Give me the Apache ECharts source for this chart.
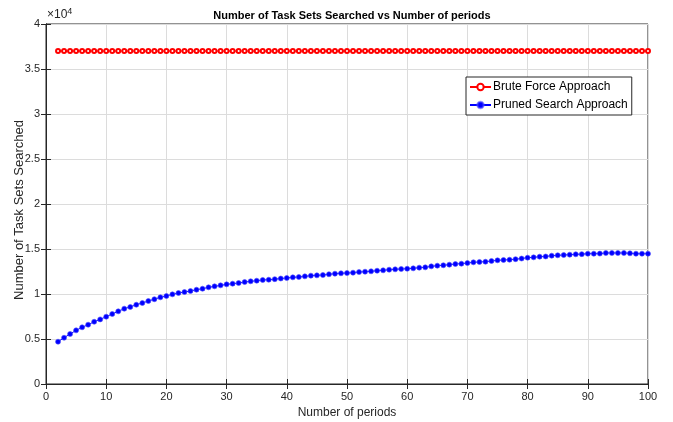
<!DOCTYPE html>
<html><head><meta charset="utf-8">
<script src="https://cdn.jsdelivr.net/npm/echarts@6/dist/echarts.min.js"></script>
<style>html,body{margin:0;padding:0;background:#fff}#c{width:673px;height:422px}</style>
</head><body><div id="c"></div>
<script>
const periods = [];
for (let p = 2; p <= 100; p++) periods.push(p);
const bruteForce = Array(99).fill(37000);
const pruned = [4700,5140,5560,5960,6300,6590,6920,7180,7480,7780,8070,8370,8560,8810,9000,9220,9420,9630,9780,9960,
10110,10220,10330,10480,10590,10740,10850,10960,11070,11150,11220,11330,11410,11480,11560,11590,11650,11720,11780,11850,
11890,11960,12040,12070,12110,12190,12260,12300,12330,12370,12440,12480,12520,12590,12630,12700,12740,12780,12810,12850,
12930,12960,13070,13150,13190,13260,13330,13370,13440,13520,13560,13590,13670,13740,13780,13810,13870,13940,14040,14070,
14150,14170,14260,14300,14330,14370,14410,14430,14480,14480,14490,14560,14560,14560,14560,14520,14480,14480,14480];
const xTicks = [0,10,20,30,40,50,60,70,80,90,100];
const yTickLabels = ['0','0.5','1','1.5','2','2.5','3','3.5','4'];

const FONT = 'Liberation Sans Narrow, Arial Narrow, Liberation Sans, Arial, sans-serif';
const chart = echarts.init(document.getElementById('c'));
const mk = (arr) => periods.map((p, i) => [p, arr[i]]);
chart.setOption({
  animation: false,
  textStyle: { fontFamily: FONT },
  title: {
    text: 'Number of Task Sets Searched vs Number of periods',
    left: 347, top: 5, textAlign: 'center',
    textStyle: { fontFamily: FONT, fontSize: 11, fontWeight: 'bold', color: '#000' }
  },
  grid: { left: 46, right: 25, top: 24, bottom: 38, show: true, borderColor: '#262626', borderWidth: 1,
    containLabel: false, outerBoundsMode: 'none' },
  legend: {
    orient: 'vertical', left: 466, top: 77,
    backgroundColor: '#fff', borderColor: '#262626', borderWidth: 1,
    padding: [4, 4, 4, 3], itemGap: 6, itemWidth: 21, itemHeight: 8,
    textStyle: { fontFamily: 'Liberation Sans, Arial, sans-serif', fontSize: 12, color: '#000', padding: [0,0,0,-3] },
    data: ['Brute Force Approach', 'Pruned Search Approach']
  },
  graphic: [{
    type: 'text', left: 47, top: 7,
    style: { text: '×10{s|4}', font: '12px Liberation Sans Narrow, Liberation Sans, Arial', fill: '#262626',
      rich: { s: { fontSize: 9, verticalAlign: 'top', padding: [0,0,7,0] } } }
  }],
  xAxis: [{
    type: 'value', min: 0, max: 100, interval: 10,
    name: 'Number of periods', nameLocation: 'middle', nameGap: 23,
    nameTextStyle: { fontFamily: FONT, fontSize: 12, color: '#262626' },
    axisLine: { lineStyle: { color: '#262626' } },
    axisTick: { inside: true, length: 5, lineStyle: { color: '#262626' } },
    axisLabel: { fontFamily: FONT, fontSize: 11, color: '#262626', margin: 7 },
    splitLine: { show: true, lineStyle: { color: '#dcdcdc' } }
  }, {
    type: 'value', position: 'top', min: 0, max: 100, interval: 10,
    axisLine: { show: true, lineStyle: { color: '#262626' } },
    axisTick: { inside: true, length: 5, lineStyle: { color: '#262626' } },
    axisLabel: { show: false }, splitLine: { show: false }
  }],
  yAxis: [{
    type: 'value', min: 0, max: 40000, interval: 5000,
    name: 'Number of Task Sets Searched', nameLocation: 'middle', nameGap: 20, nameMoveOverlap: false,
    nameTextStyle: { fontFamily: 'Liberation Sans, Arial, sans-serif', fontSize: 13, color: '#262626', padding: [0, 12, 0, 0] },
    axisLine: { show: true, lineStyle: { color: '#262626' } },
    axisTick: { show: true, inside: true, length: 5, lineStyle: { color: '#262626' } },
    axisLabel: { fontFamily: FONT, fontSize: 11, color: '#262626', margin: 6,
      formatter: (v) => yTickLabels[Math.round(v / 5000)] },
    splitLine: { show: true, lineStyle: { color: '#dcdcdc' } }
  }, {
    type: 'value', position: 'right', min: 0, max: 40000, interval: 5000,
    axisLine: { show: true, lineStyle: { color: '#262626' } },
    axisTick: { show: true, inside: true, length: 5, lineStyle: { color: '#262626' } },
    axisLabel: { show: false }, splitLine: { show: false }
  }],
  series: [{
    name: 'Brute Force Approach', type: 'line', data: mk(bruteForce),
    symbol: 'emptyCircle', symbolSize: 4,
    lineStyle: { color: '#ff0000', width: 1 },
    itemStyle: { color: '#ff0000', borderColor: '#ff0000', borderWidth: 1 }
  }, {
    name: 'Pruned Search Approach', type: 'line', data: mk(pruned),
    symbol: 'circle', symbolSize: 5,
    lineStyle: { color: '#0000ff', width: 1 },
    itemStyle: { color: '#0000ff', borderColor: 'rgba(80,80,255,0.6)', borderWidth: 1 }
  }]
});
</script></body></html>
